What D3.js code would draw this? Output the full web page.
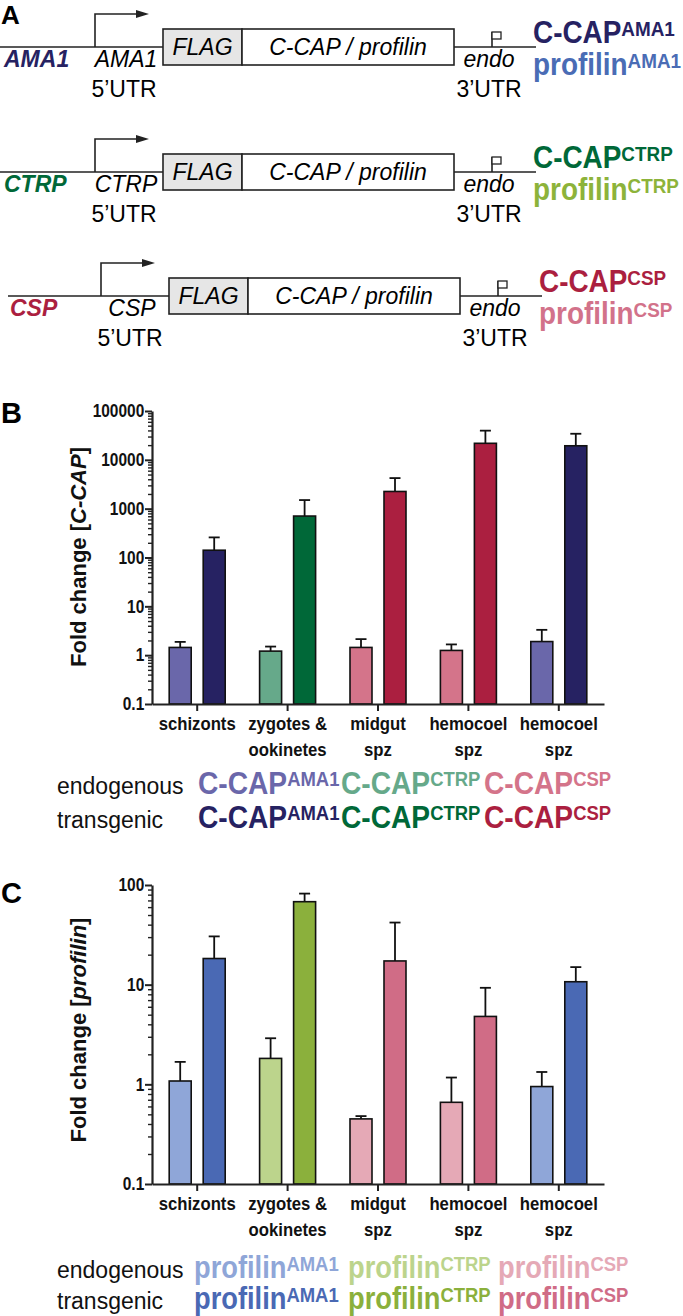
<!DOCTYPE html>
<html><head><meta charset="utf-8">
<script src="https://cdn.jsdelivr.net/npm/d3@7"></script>
<style>
body{margin:0;background:#fff;}
svg{display:block;font-family:"Liberation Sans",Arial,sans-serif;}
</style></head>
<body><svg id="fig" width="683" height="1316"></svg>
<script>
// ---------- data ----------
const promoters = ["AMA1", "CTRP", "CSP"];
const promoterColors = ["#262262", "#006838", "#ab1f40"];
const profilinColors = ["#4a6cb5", "#8db33a", "#d2728a"];

const categories = [["schizonts"], ["zygotes &", "ookinetes"], ["midgut", "spz"], ["hemocoel", "spz"], ["hemocoel", "spz"]];

// panel B: C-CAP fold change (mean, upper error)
const ccapEndo = [1.44, 1.21, 1.44, 1.25, 1.9];
const ccapEndoErr = [1.87, 1.5, 2.13, 1.66, 3.3];
const ccapTrans = [141, 706, 2250, 21800, 19400];
const ccapTransErr = [258, 1500, 4230, 39600, 34200];
const ccapEndoColors = ["#6a67aa", "#66a98a", "#d4748a", "#d4748a", "#6a67aa"];
const ccapTransColors = ["#262262", "#006838", "#ab1f40", "#ab1f40", "#262262"];
const ccapTicks = [0.1, 1, 10, 100, 1000, 10000, 100000];
const ccapTickLabels = ["0.1", "1", "10", "100", "1000", "10000", "100000"];

// panel C: profilin fold change
const profEndo = [1.08, 1.82, 0.45, 0.66, 0.95];
const profEndoErr = [1.68, 2.9, 0.48, 1.17, 1.33];
const profTrans = [18.3, 68, 17.3, 4.8, 10.7];
const profTransErr = [30.5, 82, 42, 9.3, 15];
const profEndoColors = ["#8fa6d8", "#bcd48c", "#e5a9b6", "#e5a9b6", "#8fa6d8"];
const profTransColors = ["#4a69b4", "#8bb03c", "#d06c86", "#d06c86", "#4a69b4"];
const profTicks = [0.1, 1, 10, 100];
const profTickLabels = ["0.1", "1", "10", "100"];

const legendSups = ["AMA1", "CTRP", "CSP"];
const ccapLegendEndo = ["#6a67aa", "#66a98a", "#d4748a"];
const ccapLegendTrans = ["#262262", "#006838", "#ab1f40"];
const profLegendEndo = ["#8fa6d8", "#bcd48c", "#e5a9b6"];
const profLegendTrans = ["#4a69b4", "#8bb03c", "#d06c86"];

// ---------- drawing ----------
const svg = d3.select("#fig");
const FONT = '"Liberation Sans", Arial, sans-serif';
const SQ = 0.88; // horizontal condensing for the condensed bold labels

function panelLetter(t, x, y, s) {
  svg.append("text").attr("x", x).attr("y", y).attr("font-size", s).attr("font-weight", "bold").text(t);
}

function supLabel(g, x, y, main, sup, color, size, supSize, sq) {
  const t = g.append("text").attr("transform", `translate(${x},${y}) scale(${sq || SQ},1)`).attr("font-weight", "bold")
    .attr("fill", color).attr("font-size", size);
  t.append("tspan").text(main);
  t.append("tspan").attr("font-size", supSize).attr("dy", -(size - supSize) * 0.72).text(sup);
  return t;
}

// Panel A
panelLetter("A", 1, 24, 26);
const rowY = [47, 172, 296];
const rowShift = [0, 0, 6];
promoters.forEach((p, i) => {
  const g = svg.append("g").attr("transform", `translate(${rowShift[i]},${rowY[i]})`);
  const ln = (x1, y1, x2, y2) => g.append("line").attr("x1", x1).attr("y1", y1).attr("x2", x2).attr("y2", y2)
    .attr("stroke", "#222").attr("stroke-width", 1.6);
  ln(i === 2 ? 2 : 0, 0, 163, 0);
  ln(454, 0, 536, 0);
  // promoter arrow
  g.append("path").attr("d", "M95,0 V-33 H138").attr("fill", "none").attr("stroke", "#222").attr("stroke-width", 1.6);
  g.append("path").attr("d", "M136,-37 L149,-33 L136,-29 Z").attr("fill", "#222");
  // boxes
  g.append("rect").attr("x", 163).attr("y", -18).attr("width", 79).attr("height", 36)
    .attr("fill", "#e6e6e6").attr("stroke", "#222").attr("stroke-width", 1.6);
  g.append("rect").attr("x", 242).attr("y", -18).attr("width", 212).attr("height", 36)
    .attr("fill", "#fff").attr("stroke", "#222").attr("stroke-width", 1.6);
  g.append("text").attr("x", 202.5).attr("y", 8).attr("text-anchor", "middle").attr("font-size", 23)
    .attr("font-style", "italic").text("FLAG");
  g.append("text").attr("x", 348).attr("y", 8).attr("text-anchor", "middle").attr("font-size", 23)
    .attr("font-style", "italic").text("C-CAP / profilin");
  // terminator
  g.append("path").attr("d", "M492,0 V-15").attr("stroke", "#222").attr("stroke-width", 1.6);
  g.append("rect").attr("x", 492).attr("y", -15).attr("width", 9).attr("height", 7)
    .attr("fill", "#fff").attr("stroke", "#222").attr("stroke-width", 1.3);
  // labels
  g.append("text").attr("x", 4).attr("y", 20).attr("font-size", 23).attr("font-weight", "bold")
    .attr("font-style", "italic").attr("fill", promoterColors[i]).text(p);
  g.append("text").attr("x", 126).attr("y", 20).attr("text-anchor", "middle").attr("font-size", 23)
    .attr("font-style", "italic").text(p);
  g.append("text").attr("x", 124).attr("y", 50).attr("text-anchor", "middle").attr("font-size", 23).text("5\u2019UTR");
  g.append("text").attr("x", 489).attr("y", 20).attr("text-anchor", "middle").attr("font-size", 23)
    .attr("font-style", "italic").text("endo");
  g.append("text").attr("x", 489).attr("y", 50).attr("text-anchor", "middle").attr("font-size", 23).text("3\u2019UTR");
  supLabel(g, 533, -4, "C-CAP", p, promoterColors[i], 31, 21, 0.9);
  supLabel(g, 533, 28, "profilin", p, profilinColors[i], 31, 21, 0.9);
});

function drawChart(o) {
  const g = svg.append("g");
  const y = d3.scaleLog().domain([o.ticks[0], o.ticks[o.ticks.length - 1]]).range([o.y0, o.y1]);
  const x = d3.scaleBand().domain(d3.range(categories.length)).range([152, 604]);
  const bw = 22, off = 17;
  // minor ticks
  const minors = [];
  for (let k = 0; k < o.ticks.length - 1; k++) for (let m = 2; m <= 9; m++) minors.push(o.ticks[k] * m);
  g.append("g").attr("transform", "translate(152,0)")
    .call(d3.axisLeft(y).tickValues(minors).tickSize(4).tickFormat(""))
    .call(a => a.select(".domain").remove())
    .selectAll("line").attr("stroke", "#222").attr("stroke-width", 1.4);
  const ya = g.append("g").attr("transform", "translate(152,0)")
    .call(d3.axisLeft(y).tickValues(o.ticks).tickSize(7).tickSizeOuter(0).tickPadding(2)
      .tickFormat((d, i) => o.tickLabels[i]));
  ya.select(".domain").attr("stroke", "#222").attr("stroke-width", 2.2);
  ya.selectAll(".tick line").attr("stroke", "#222").attr("stroke-width", 2);
  ya.selectAll(".tick text").attr("font-family", FONT).attr("font-size", 18).attr("font-weight", "bold")
    .attr("fill", "#111").attr("transform", "scale(0.86,1)");
  // bars
  const bars = [];
  categories.forEach((c, i) => {
    const cx = x(i) + x.bandwidth() / 2;
    bars.push({cx: cx - off, v: o.endo[i], e: o.endoErr[i], col: o.endoCol[i]});
    bars.push({cx: cx + off, v: o.trans[i], e: o.transErr[i], col: o.transCol[i]});
  });
  g.selectAll("line.err").data(bars).join("line").attr("class", "err")
    .attr("x1", d => d.cx).attr("x2", d => d.cx).attr("y1", d => y(d.v)).attr("y2", d => y(d.e))
    .attr("stroke", "#111").attr("stroke-width", 1.8);
  g.selectAll("line.cap").data(bars).join("line").attr("class", "cap")
    .attr("x1", d => d.cx - 5.5).attr("x2", d => d.cx + 5.5).attr("y1", d => y(d.e)).attr("y2", d => y(d.e))
    .attr("stroke", "#111").attr("stroke-width", 1.8);
  g.selectAll("rect.bar").data(bars).join("rect").attr("class", "bar")
    .attr("x", d => d.cx - bw / 2).attr("width", bw).attr("y", d => y(d.v)).attr("height", d => o.y0 - y(d.v))
    .attr("fill", d => d.col).attr("stroke", "#111").attr("stroke-width", 1.6);
  // x axis
  const xa = g.append("g").attr("transform", `translate(0,${o.y0})`)
    .call(d3.axisBottom(x).tickSize(7).tickSizeOuter(0).tickFormat(""));
  xa.select(".domain").attr("stroke", "#222").attr("stroke-width", 2.2);
  xa.selectAll(".tick line").attr("stroke", "#222").attr("stroke-width", 2);
  categories.forEach((c, i) => {
    c.forEach((s, j) => g.append("text")
      .attr("transform", `translate(${x(i) + x.bandwidth() / 2},${o.y0 + 26 + j * 26}) scale(0.88,1)`)
      .attr("text-anchor", "middle").attr("font-size", 19).attr("font-weight", "bold").attr("fill", "#111").text(s));
  });
  // y label
  const yl = g.append("text").attr("transform", `translate(86,${o.labelY}) rotate(-90)`)
    .attr("text-anchor", "middle").attr("font-size", 22).attr("font-weight", "bold").attr("fill", "#111");
  yl.append("tspan").text("Fold change [");
  yl.append("tspan").attr("font-style", "italic").text(o.gene);
  yl.append("tspan").text("]");
  // legend
  [["endogenous", o.legEndo, o.legY0], ["transgenic", o.legTrans, o.legY1]].forEach(([lab, cols, ly]) => {
    g.append("text").attr("x", 57).attr("y", ly).attr("font-size", 23).attr("fill", "#111").text(lab);
    legendSups.forEach((s, k) => supLabel(g, o.legX[k], ly, o.legMain, s, cols[k], o.legSize, 21));
  });
}

panelLetter("B", 1, 423, 29);
drawChart({ticks: ccapTicks, tickLabels: ccapTickLabels, y0: 704, y1: 411,
  endo: ccapEndo, endoErr: ccapEndoErr, trans: ccapTrans, transErr: ccapTransErr,
  endoCol: ccapEndoColors, transCol: ccapTransColors, gene: "C-CAP", labelY: 557,
  legEndo: ccapLegendEndo, legTrans: ccapLegendTrans, legY0: 794, legY1: 828, legSize: 32,
  legMain: "C-CAP", legX: [198, 341, 484]});

panelLetter("C", 1, 903, 29);
drawChart({ticks: profTicks, tickLabels: profTickLabels, y0: 1184, y1: 885,
  endo: profEndo, endoErr: profEndoErr, trans: profTrans, transErr: profTransErr,
  endoCol: profEndoColors, transCol: profTransColors, gene: "profilin", labelY: 1030,
  legEndo: profLegendEndo, legTrans: profLegendTrans, legY0: 1278, legY1: 1309, legSize: 31,
  legMain: "profilin", legX: [194, 348, 498]});
</script></body></html>
